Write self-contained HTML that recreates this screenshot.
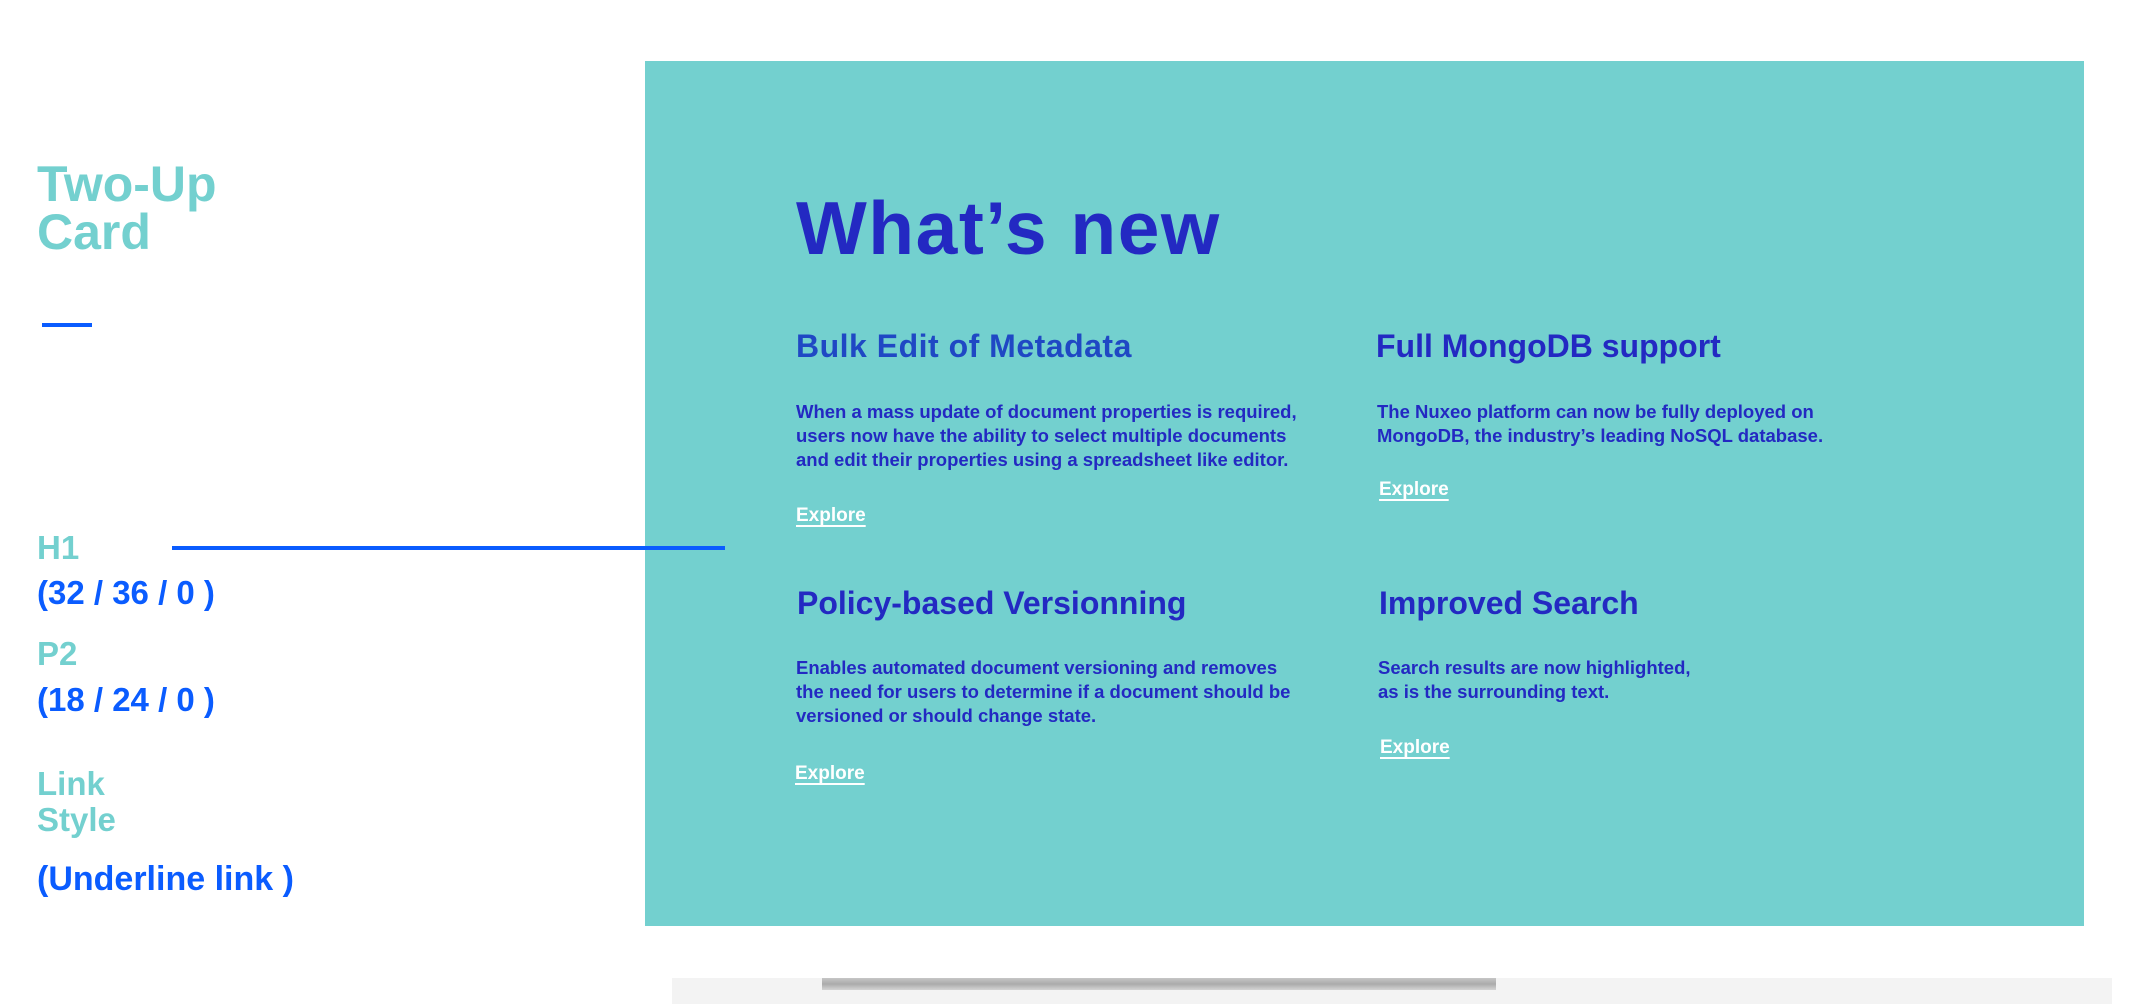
<!DOCTYPE html>
<html><head><meta charset="utf-8"><style>
body{margin:0;width:2130px;height:1004px;background:#fff;position:relative;overflow:hidden;font-family:"Liberation Sans",sans-serif;font-weight:bold}
.t{position:absolute;white-space:nowrap;line-height:1}
.teal{color:#73d0cf}
.blue{color:#0a5cff}
.h{color:#2329c2}
.u{color:#fff;text-decoration:underline;text-underline-offset:4px;text-decoration-thickness:2px}
</style></head><body>
<div style="position:absolute;left:645px;top:61px;width:1439px;height:865px;background:#73d0cf"></div>
<div style="position:absolute;left:672px;top:978px;width:1440px;height:26px;background:#f3f3f3"></div>
<div style="position:absolute;left:822px;top:978px;width:674px;height:12px;background:linear-gradient(180deg,#bbb,#999 50%,#ccc);opacity:.8"></div>

<div class="t teal" style="left:37px;top:160px;font-size:50px;line-height:48px">Two-Up<br>Card</div>
<div style="position:absolute;left:42px;top:323px;width:50px;height:4px;background:#0a5cff"></div>
<div class="t teal" style="left:37px;top:531px;font-size:33px">H1</div>
<div style="position:absolute;left:172px;top:546px;width:553px;height:4px;background:#0a5cff"></div>
<div class="t blue" style="left:37px;top:576px;font-size:33px">(32 / 36 / 0 )</div>
<div class="t teal" style="left:37px;top:637px;font-size:33px">P2</div>
<div class="t blue" style="left:37px;top:683px;font-size:33px">(18 / 24 / 0 )</div>
<div class="t teal" style="left:37px;top:766px;font-size:33px;line-height:36px">Link<br>Style</div>
<div class="t blue" style="left:37px;top:862px;font-size:34px">(Underline link )</div>

<div class="t h" style="left:796px;top:191px;font-size:75px;letter-spacing:1.5px">What’s new</div>

<div class="t" style="left:796px;top:330px;font-size:32px;color:#1f48c4;letter-spacing:0.5px">Bulk Edit of Metadata</div>
<div class="t h" style="left:796px;top:400px;font-size:18.5px;line-height:24px">When a mass update of document properties is required,<br>users now have the ability to select multiple documents<br>and edit their properties using a spreadsheet like editor.</div>
<div class="t u" style="left:796px;top:506px;font-size:19px">Explore</div>

<div class="t h" style="left:1376px;top:330px;font-size:32px">Full MongoDB support</div>
<div class="t h" style="left:1377px;top:400px;font-size:18.5px;line-height:24px">The Nuxeo platform can now be fully deployed on<br>MongoDB, the industry’s leading NoSQL database.</div>
<div class="t u" style="left:1379px;top:480px;font-size:19px">Explore</div>

<div class="t h" style="left:797px;top:587px;font-size:32px">Policy-based Versionning</div>
<div class="t h" style="left:796px;top:656px;font-size:18.5px;line-height:24px">Enables automated document versioning and removes<br>the need for users to determine if a document should be<br>versioned or should change state.</div>
<div class="t u" style="left:795px;top:764px;font-size:19px">Explore</div>

<div class="t h" style="left:1379px;top:587px;font-size:32px">Improved Search</div>
<div class="t h" style="left:1378px;top:656px;font-size:18.5px;line-height:24px">Search results are now highlighted,<br>as is the surrounding text.</div>
<div class="t u" style="left:1380px;top:738px;font-size:19px">Explore</div>
</body></html>
